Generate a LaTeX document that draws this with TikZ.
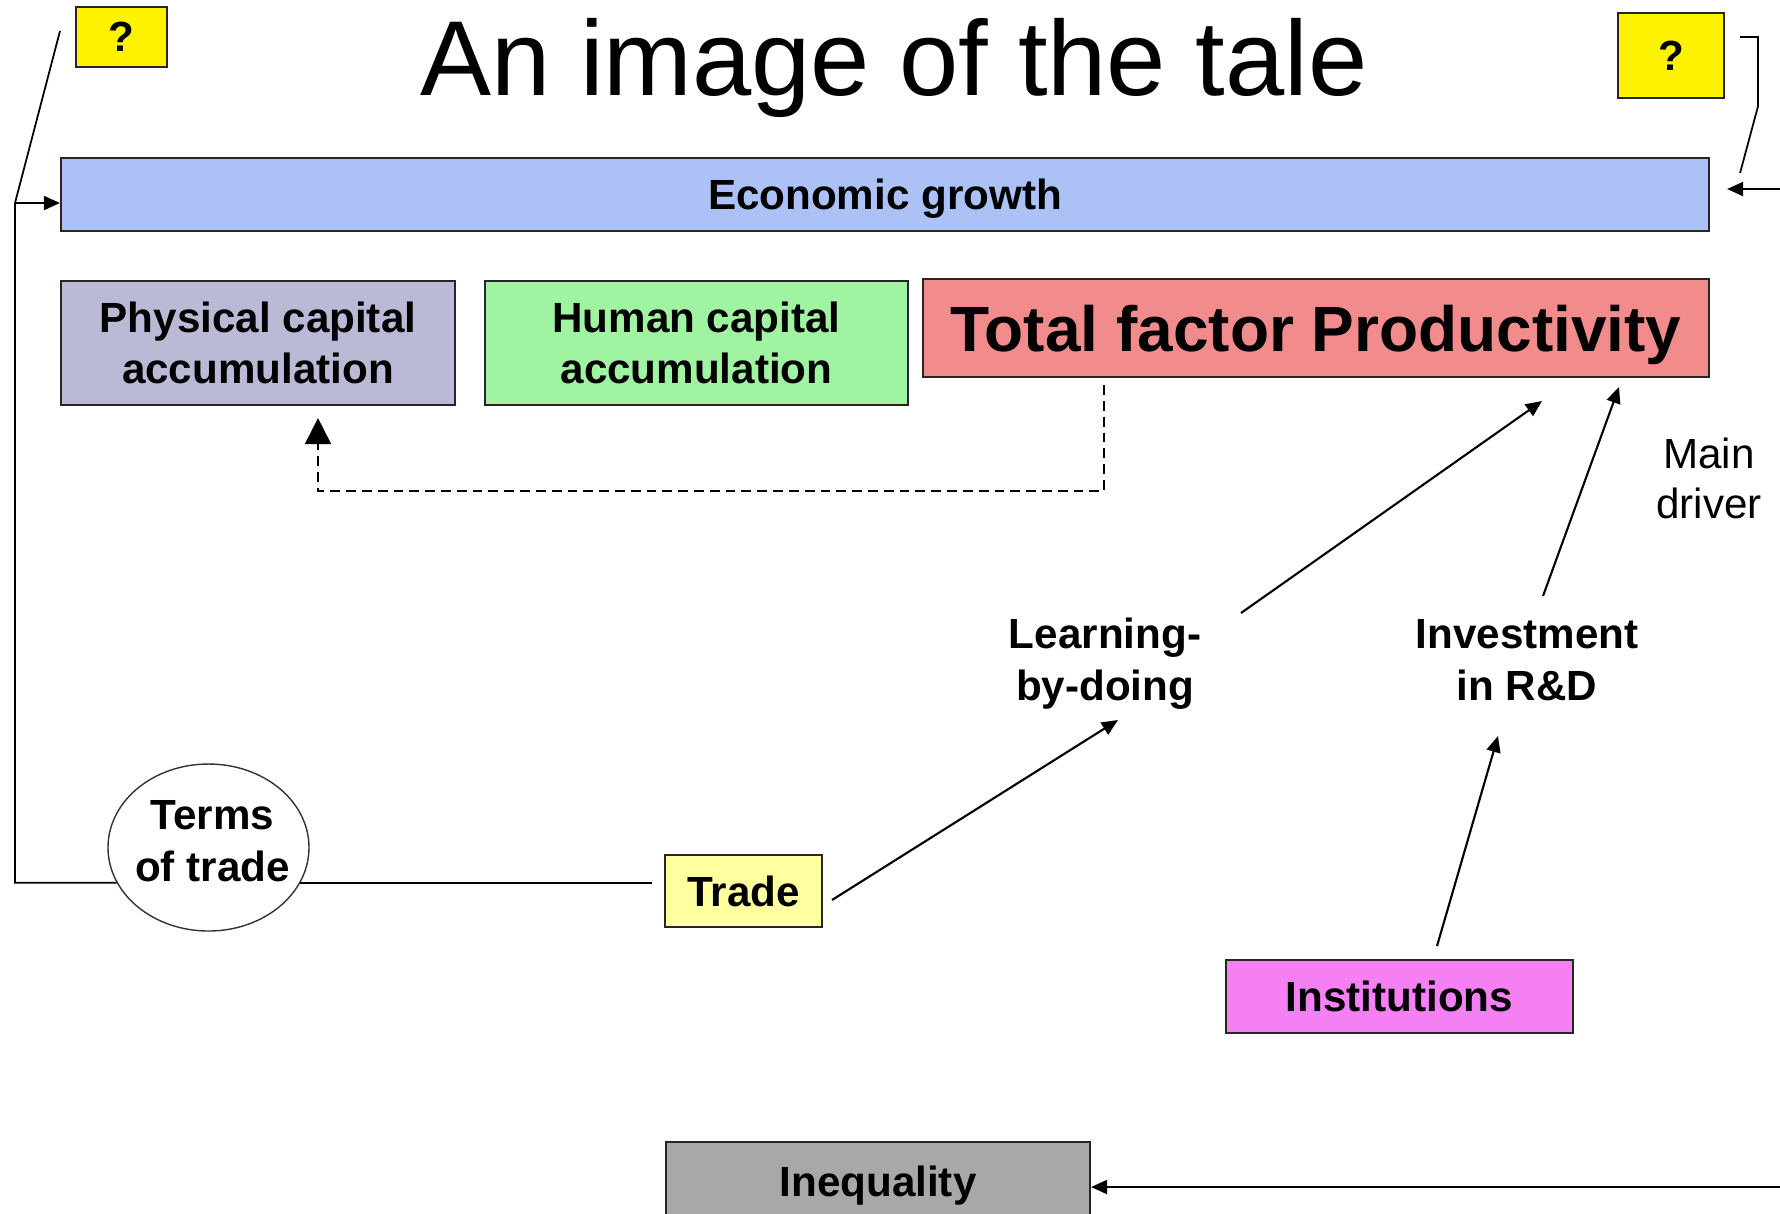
\documentclass[tikz,border=0pt]{standalone}
\usepackage{fontspec}
\setmainfont{Liberation Sans}
\usepackage{tikz}
\usetikzlibrary{arrows.meta,shapes.geometric}

\definecolor{growthblue}{RGB}{172,193,245}
\definecolor{physgray}{RGB}{186,186,214}
\definecolor{humangreen}{RGB}{160,243,160}
\definecolor{tfpred}{RGB}{242,140,140}
\definecolor{tradeyellow}{RGB}{255,255,160}
\definecolor{instpink}{RGB}{244,128,244}
\definecolor{ineqgray}{RGB}{168,168,168}

\tikzset{
  box/.style={draw=black!85,line width=0.6pt,inner sep=0pt,align=center,
    font=\bfseries\fontsize{12}{14.6}\selectfont},
  onebox/.style={box,text depth=0pt},
  txt/.style={inner sep=0pt,align=center,font=\bfseries\fontsize{12}{14.8}\selectfont},
  tip/.style={-{Triangle[length=4.6pt,width=4pt]},line width=0.6pt},
}

\begin{document}
\begin{tikzpicture}[x=0.1mm,y=-0.1mm,line width=0.5pt]
\useasboundingbox (0,0) rectangle (1780,1213);
\node[anchor=base] (title) at (894,95) {\fontsize{30.3}{36}\selectfont An image of the tale};
\node[onebox,fill=yellow,minimum width=9.1mm,minimum height=6mm] (qleft) at (121.5,37) {?};
\node[onebox,fill=yellow,minimum width=10.6mm,minimum height=8.5mm] (qright) at (1671,55.5) {?};
\node[onebox,fill=growthblue,minimum width=164.8mm,minimum height=7.3mm] (growth) at (885,194.5) {Economic growth};
\node[box,fill=physgray,minimum width=39.4mm,minimum height=12.4mm] (phys) at (258,343) {Physical capital\\accumulation};
\node[box,fill=humangreen,minimum width=42.3mm,minimum height=12.4mm] (human) at (696.5,343) {Human capital\\accumulation};
\node[onebox,fill=tfpred,minimum width=78.6mm,minimum height=9.8mm,font=\bfseries\fontsize{18.2}{22}\selectfont] (tfp) at (1316,328) {Total factor Productivity};
\node[txt] (learn) at (1105,664) {Learning-\\by-doing};
\node[txt] (invest) at (1527,660) {Investment\\in R\&D};
\node[inner sep=0pt,align=center,font=\fontsize{12}{14.2}\selectfont] (driver) at (1709,478) {Main\\driver};
\node[onebox,fill=tradeyellow,minimum width=15.7mm,minimum height=7.2mm] (trade) at (743.5,891) {Trade};
\node[onebox,fill=instpink,minimum width=34.7mm,minimum height=7.3mm] (inst) at (1399.5,996.5) {Institutions};
\node[onebox,fill=ineqgray,minimum width=42.4mm,minimum height=7.8mm] (ineq) at (878,1181) {Inequality};

% left loop back to growth
\coordinate (qlT) at (60,31);
\coordinate (bendL) at (15,203);
\node[draw=black!80,line width=0.4pt,fill=white,ellipse,inner sep=0pt,
  minimum width=20.1mm,minimum height=16.7mm,
  label={[txt,xshift=0.4mm,yshift=0.65mm]center:Terms\\of trade}] (tot) at (208.5,847.5) {};
\draw (qlT) -- (bendL) -- (bendL |- tot.201) -- (tot.201);
\draw[tip] (bendL) -- (bendL -| growth.west);
\draw[shorten >=1.2mm] (tot.339) -- (tot.339 -| trade.west);

% right side
\coordinate (growthR) at (1790,189);
\coordinate (ineqR) at (1790,1187);
\draw ([shift={(15,-18.5)}]qright.east) -| ++(18,69) -- ++(-18,67);
\draw[tip,shorten >=1.7mm] (growthR) -- (growthR -| growth.east);
\draw[tip] (ineqR) -- (ineqR -| ineq.east);

% tfp spill-over
\draw[dash pattern=on 2.8pt off 1.7pt,-{Triangle[length=7.4pt,width=7.4pt]}]
  ([shift={(182,7)}]tfp.south west) |- ([shift={(60,85)}]phys.south) -- ([shift={(60,12)}]phys.south);

\draw[tip] ([shift={(136,-51)}]learn.center) -- ([shift={(226,73)}]tfp.center);
\draw[tip] ([shift={(16,-64)}]invest.center) -- ([shift={(303,59)}]tfp.center);
\draw[tip] ([shift={(88.5,9)}]trade.center) -- ([shift={(13,56)}]learn.center);
\draw[tip] ([shift={(37.5,-50.5)}]inst.center) -- ([shift={(-29,76)}]invest.center);
\end{tikzpicture}
\end{document}
